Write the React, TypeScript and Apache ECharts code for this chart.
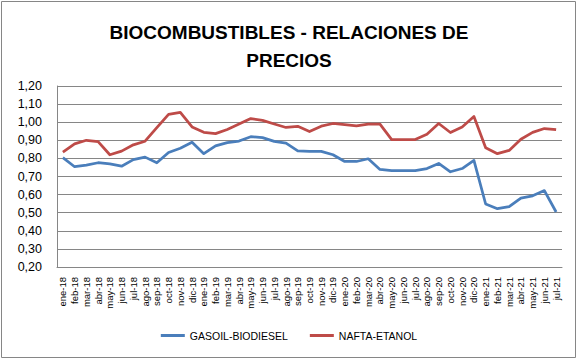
import React, { useEffect, useRef } from "react";
import * as echarts from "echarts";

const categories = [
  "ene-18","feb-18","mar-18","abr-18","may-18","jun-18","jul-18","ago-18","sep-18","oct-18","nov-18","dic-18",
  "ene-19","feb-19","mar-19","abr-19","may-19","jun-19","jul-19","ago-19","sep-19","oct-19","nov-19","dic-19",
  "ene-20","feb-20","mar-20","abr-20","may-20","jun-20","jul-20","ago-20","sep-20","oct-20","nov-20","dic-20",
  "ene-21","feb-21","mar-21","abr-21","may-21","jun-21","jul-21",
];

const gasoilBiodiesel = [
  0.804, 0.754, 0.763, 0.776, 0.77, 0.757, 0.793, 0.807, 0.776, 0.833, 0.856, 0.889,
  0.826, 0.869, 0.887, 0.896, 0.92, 0.915, 0.894, 0.884, 0.842, 0.839, 0.839, 0.82,
  0.783, 0.783, 0.798, 0.739, 0.733, 0.733, 0.733, 0.744, 0.772, 0.726, 0.744, 0.789,
  0.548, 0.522, 0.533, 0.581, 0.593, 0.622, 0.504,
];

const naftaEtanol = [
  0.835, 0.88, 0.9, 0.893, 0.82, 0.84, 0.875, 0.895, 0.97, 1.043, 1.054, 0.974,
  0.944, 0.937, 0.96, 0.99, 1.02, 1.01, 0.99, 0.971, 0.977, 0.948, 0.978, 0.993,
  0.987, 0.98, 0.989, 0.989, 0.904, 0.904, 0.904, 0.933, 0.993, 0.943, 0.974, 1.032,
  0.859, 0.826, 0.844, 0.906, 0.944, 0.965, 0.959,
];

const seriesNames = ["GASOIL-BIODIESEL", "NAFTA-ETANOL"];
const titleText = "BIOCOMBUSTIBLES - RELACIONES DE\nPRECIOS";

export default function App() {
  const ref = useRef<HTMLDivElement>(null);
  useEffect(() => {
    document.body.style.margin = "0";
    const chart = echarts.init(ref.current!, null, { renderer: "svg" });
    const font = "'Liberation Sans', Arial, sans-serif";
    chart.setOption({
      animation: false,
      backgroundColor: "#ffffff",
      title: {
        text: titleText,
        left: "center",
        top: 13,
        textStyle: {
          fontFamily: font,
          fontWeight: "bold",
          fontSize: 19,
          lineHeight: 28,
          color: "#000",
        },
      },
      graphic: [
        {
          type: "rect",
          shape: { x: 1.5, y: 1.5, width: 574, height: 356 },
          style: { fill: "none", stroke: "#868686", lineWidth: 1 },
          silent: true,
        },
      ],
      legend: {
        bottom: 14,
        left: "center",
        icon: "rect",
        itemWidth: 24,
        itemHeight: 3,
        itemGap: 22,
        textStyle: { fontFamily: font, fontSize: 10.5, color: "#000" },
        data: seriesNames,
      },
      grid: { left: 57, right: 16, top: 86, bottom: 93, containLabel: false },
      xAxis: {
        type: "category",
        data: categories,
        boundaryGap: true,
        axisLine: { lineStyle: { color: "#868686", width: 1 } },
        axisTick: { show: false },
        axisLabel: {
          rotate: 90,
          interval: 0,
          margin: 10,
          fontFamily: font,
          fontSize: 9.5,
          color: "#000",
        },
      },
      yAxis: {
        type: "value",
        min: 0.2,
        max: 1.2,
        interval: 0.1,
        axisLine: { show: true, lineStyle: { color: "#868686", width: 1 } },
        axisTick: { show: false },
        splitLine: { lineStyle: { color: "#868686", width: 1 } },
        axisLabel: {
          margin: 15,
          fontFamily: font,
          fontSize: 12.5,
          color: "#000",
          formatter: (v: number) => v.toFixed(2).replace(".", ","),
        },
      },
      series: [
        {
          name: seriesNames[0],
          type: "line",
          data: gasoilBiodiesel,
          symbol: "none",
          lineStyle: { color: "#4A7EBB", width: 2.75, join: "round" },
          itemStyle: { color: "#4A7EBB" },
        },
        {
          name: seriesNames[1],
          type: "line",
          data: naftaEtanol,
          symbol: "none",
          lineStyle: { color: "#BE4B48", width: 2.75, join: "round" },
          itemStyle: { color: "#BE4B48" },
        },
      ],
    });
    return () => chart.dispose();
  }, []);
  return <div ref={ref} style={{ width: 578, height: 360 }} />;
}
